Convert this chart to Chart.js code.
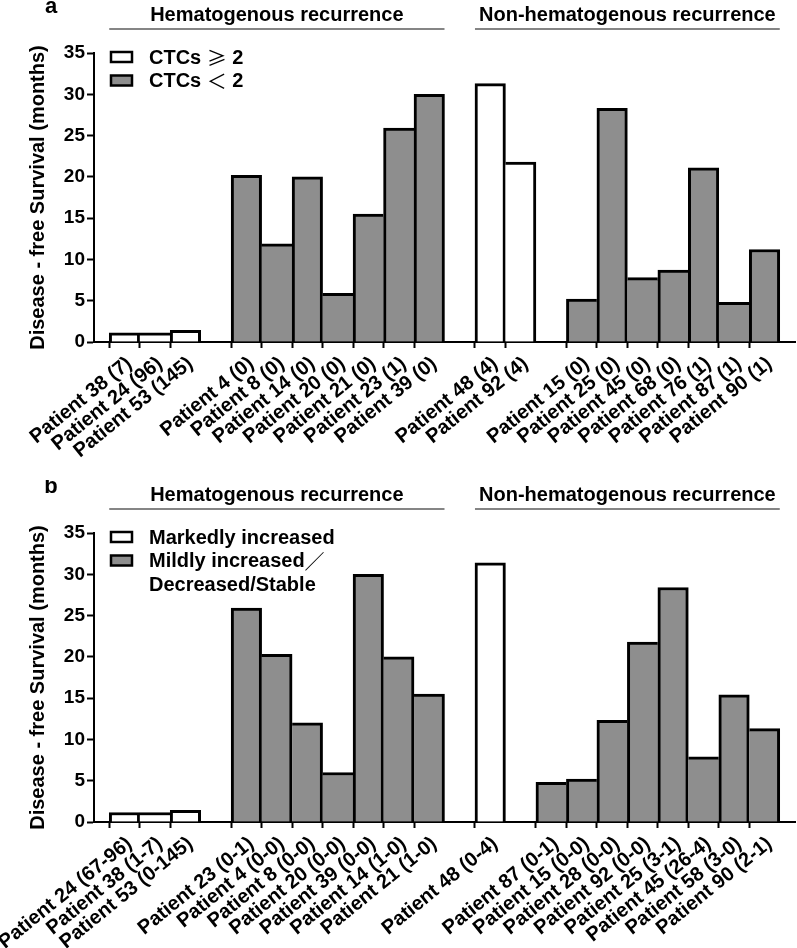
<!DOCTYPE html>
<html lang="en">
<head>
<meta charset="utf-8">
<title>Disease-free survival by patient</title>
<script src="https://cdn.jsdelivr.net/npm/chart.js@4.4.1/dist/chart.umd.min.js"></script>
<style>
  html, body { margin: 0; padding: 0; background: #fff; }
  canvas { display: block; }
</style>
</head>
<body>
<canvas id="grafico-a" width="797" height="480"></canvas>
<canvas id="grafico-b" width="797" height="468"></canvas>
<script>
// Panel a: pacientes (CTCs entre paréntesis); '' = hueco entre grupos
const etiquetasA = [
    '', 'Patient 38 (7)', 'Patient 24 (96)', 'Patient 53 (145)',
    '', 'Patient 4 (0)', 'Patient 8 (0)', 'Patient 14 (0)', 'Patient 20 (0)', 'Patient 21 (0)', 'Patient 23 (1)', 'Patient 39 (0)',
    '', 'Patient 48 (4)', 'Patient 92 (4)',
    '', 'Patient 15 (0)', 'Patient 25 (0)', 'Patient 45 (0)', 'Patient 68 (0)', 'Patient 76 (1)', 'Patient 87 (1)', 'Patient 90 (1)', ''
];
// Supervivencia libre de enfermedad (meses)
const ctcAltoA = [null, 1.1, 1.1, 1.4, null, null, null, null, null, null, null, null,
                  null, 31.3, 21.8, null, null, null, null, null, null, null, null, null];
const ctcBajoA = [null, null, null, null, null, 20.2, 11.9, 20.0, 5.9, 15.5, 25.9, 30.0,
                  null, null, null, null, 5.2, 28.3, 7.8, 8.7, 21.1, 4.8, 11.2, null];

// Panel b: pacientes (cambio de CTCs entre paréntesis)
const etiquetasB = [
    '', 'Patient 24 (67-96)', 'Patient 38 (1-7)', 'Patient 53 (0-145)',
    '', 'Patient 23 (0-1)', 'Patient 4 (0-0)', 'Patient 8 (0-0)', 'Patient 20 (0-0)', 'Patient 39 (0-0)', 'Patient 14 (1-0)', 'Patient 21 (1-0)',
    '', 'Patient 48 (0-4)',
    '', 'Patient 87 (0-1)', 'Patient 15 (0-0)', 'Patient 28 (0-0)', 'Patient 92 (0-0)', 'Patient 25 (3-1)', 'Patient 45 (26-4)', 'Patient 58 (3-0)', 'Patient 90 (2-1)', ''
];
const marcadoB = [null, 1.15, 1.15, 1.4, null, null, null, null, null, null, null, null,
                  null, 31.4, null, null, null, null, null, null, null, null, null, null];
const levesB   = [null, null, null, null, null, 25.9, 20.3, 12.0, 6.0, 30.0, 20.0, 15.5,
                  null, null, null, 4.8, 5.2, 12.3, 21.8, 28.4, 7.9, 15.4, 11.3, null];

// Marcas del eje Y
const marcasY = [0, 5, 10, 15, 20, 25, 30, 35];

// Encabezados de grupo: texto y rango de índices de categoría que abarcan
const gruposA = [
    { texto: 'Hematogenous recurrence', desde: 1, hasta: 11 },
    { texto: 'Non-hematogenous recurrence', desde: 13, hasta: 22 }
];
const gruposB = [
    { texto: 'Hematogenous recurrence', desde: 1, hasta: 11 },
    { texto: 'Non-hematogenous recurrence', desde: 13, hasta: 22 }
];

const FUENTE = "'Liberation Sans', Arial, Helvetica, sans-serif";
const FUENTE_CJK = "'Noto Sans CJK SC', 'Noto Sans CJK JP', sans-serif";
const BLANCO = '#ffffff';
const GRIS = '#8e8e8e';

// Escribe un texto mezclando tramos latinos (negrita) y símbolos de ancho completo
function textoMixto(ctx, texto, x, y) {
    const tramos = texto.match(/[\x00-\x7F]+|[^\x00-\x7F]+/g) || [];
    tramos.forEach(t => {
        ctx.font = /^[\x00-\x7F]/.test(t) ? `bold 20px ${FUENTE}` : `20px ${FUENTE_CJK}`;
        ctx.fillText(t, x, y);
        x += ctx.measureText(t).width;
    });
}

// Dibuja letra del panel, encabezados con su línea y la leyenda dentro del área
const decoracion = {
    id: 'decoracion',
    afterDraw(chart, args, opts) {
        const { ctx, chartArea, scales: { x } } = chart;
        const paso = x.getPixelForValue(1) - x.getPixelForValue(0);
        ctx.save();
        ctx.fillStyle = '#000';

        // Letra del panel
        ctx.font = `bold 22px ${FUENTE}`;
        ctx.textAlign = 'center';
        ctx.textBaseline = 'alphabetic';
        ctx.fillText(opts.letra, 51, 13);

        // Encabezados de grupo
        opts.grupos.forEach(g => {
            const x0 = x.getPixelForValue(g.desde) - paso / 2;
            const x1 = x.getPixelForValue(g.hasta) + paso / 2;
            ctx.strokeStyle = '#858585';
            ctx.lineWidth = 2;
            ctx.beginPath();
            ctx.moveTo(x0, chartArea.top - 24);
            ctx.lineTo(x1, chartArea.top - 24);
            ctx.stroke();
            ctx.font = `bold 20px ${FUENTE}`;
            ctx.textBaseline = 'middle';
            ctx.fillText(g.texto, (x0 + x1) / 2, chartArea.top - 38);
        });

        // Leyenda
        let y = chartArea.top + 4;
        ctx.textAlign = 'left';
        ctx.textBaseline = 'middle';
        chart.data.datasets.forEach(ds => {
            ctx.fillStyle = ds.backgroundColor;
            ctx.fillRect(chartArea.left + 17, y - 5, 21, 10);
            ctx.strokeStyle = '#000';
            ctx.lineWidth = 2.5;
            ctx.strokeRect(chartArea.left + 17, y - 5, 21, 10);
            ctx.fillStyle = '#000';
            ds.label.split('\n').forEach(linea => {
                textoMixto(ctx, linea, chartArea.left + 55, y + 1);
                y += 23.5;
            });
        });
        ctx.restore();
    }
};

// Bordes: cada lado compartido lo dibuja solo la barra más alta
function bordes(valores) {
    return ctx => {
        const i = ctx.dataIndex;
        const v = valores[i], prev = valores[i - 1], next = valores[i + 1];
        return {
            top: 3,
            left: (prev == null || v > prev) ? 3 : 0,
            right: (next == null || v >= next) ? 3 : 0,
            bottom: 0
        };
    };
}

function crearGrafico(id, etiquetas, series, grupos, letra, altoEjeX) {
    // valores combinados por categoría para decidir los bordes
    const combinados = etiquetas.map((_, i) => {
        const s = series.find(s => s.data[i] != null);
        return s ? s.data[i] : null;
    });

    return new Chart(document.getElementById(id), {
        type: 'bar',
        data: {
            labels: etiquetas,
            datasets: series.map(s => ({
                label: s.label,
                data: s.data,
                backgroundColor: s.color,
                borderColor: '#000',
                borderWidth: bordes(combinados),
                borderSkipped: 'start',
                categoryPercentage: 1,
                barPercentage: 1
            }))
        },
        options: {
            responsive: false,
            animation: false,
            events: [],
            layout: { padding: { top: 53, right: 2, left: 0, bottom: 0 } },
            plugins: {
                legend: { display: false },
                tooltip: { enabled: false },
                decoracion: { letra: letra, grupos: grupos }
            },
            scales: {
                x: {
                    stacked: true,
                    offset: false,
                    afterFit: s => {
                        s.height = altoEjeX;
                        s.paddingLeft = 0;
                        s.paddingRight = 0;
                    },
                    border: { display: true, color: '#000', width: 2 },
                    grid: {
                        drawOnChartArea: false,
                        drawTicks: true,
                        tickLength: 6,
                        tickWidth: 2,
                        tickColor: c => etiquetas[c.index] ? '#000' : 'rgba(0,0,0,0)'
                    },
                    ticks: {
                        autoSkip: false,
                        minRotation: 39,
                        maxRotation: 39,
                        padding: 4,
                        labelOffset: 5,
                        color: '#000',
                        font: { family: FUENTE, size: 20, weight: 'bold' }
                    }
                },
                y: {
                    stacked: true,
                    min: 0,
                    max: 35,
                    afterFit: s => { s.width = 94; },
                    afterBuildTicks: s => { s.ticks = marcasY.map(v => ({ value: v })); },
                    border: { display: true, color: '#000', width: 2 },
                    grid: {
                        drawOnChartArea: false,
                        drawTicks: true,
                        tickLength: 7,
                        tickWidth: 2,
                        tickColor: '#000'
                    },
                    ticks: {
                        padding: 2,
                        color: '#000',
                        font: { family: FUENTE, size: 19, weight: 'bold' }
                    },
                    title: {
                        display: true,
                        text: 'Disease - free Survival (months)',
                        color: '#000',
                        padding: { top: 26, bottom: 0 },
                        font: { family: FUENTE, size: 20, weight: 'bold' }
                    }
                }
            }
        },
        plugins: [decoracion]
    });
}

crearGrafico('grafico-a', etiquetasA, [
    { label: 'CTCs \u2265 2', data: ctcAltoA, color: BLANCO },
    { label: 'CTCs \uFF1C 2', data: ctcBajoA, color: GRIS }
], gruposA, 'a', 138);

crearGrafico('grafico-b', etiquetasB, [
    { label: 'Markedly increased', data: marcadoB, color: BLANCO },
    { label: 'Mildly increased\uFF0F\nDecreased/Stable', data: levesB, color: GRIS }
], gruposB, 'b', 126);
</script>
</body>
</html>
